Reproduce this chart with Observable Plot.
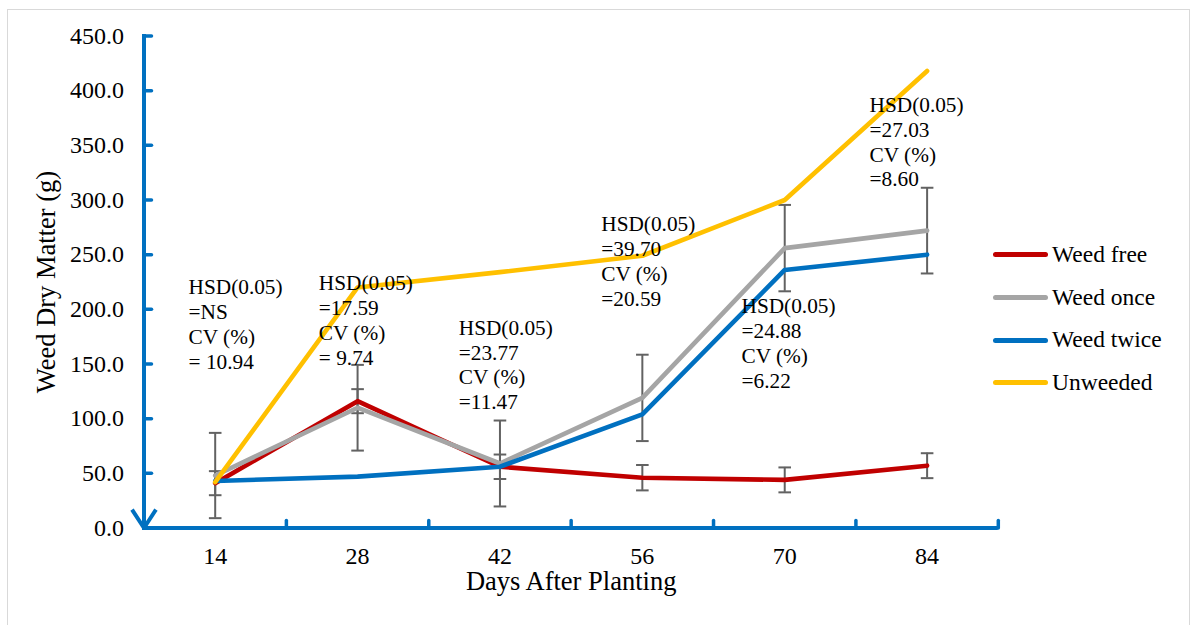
<!DOCTYPE html>
<html>
<head>
<meta charset="utf-8">
<script src="https://cdn.jsdelivr.net/npm/d3@7"></script>
<script src="https://cdn.jsdelivr.net/npm/@observablehq/plot@0.6"></script>
<style>
  html, body { margin: 0; padding: 0; background: #ffffff; }
  #wrap { position: relative; width: 1192px; height: 625px; overflow: hidden; font-family: "Liberation Serif", "Times New Roman", serif; }
  #frame { position: absolute; left: 7px; top: 9px; width: 1183px; height: 640px; border: 1px solid #d9d9d9; box-sizing: border-box; }
  #chart { position: absolute; left: 0; top: 0; }
  #legend { position: absolute; left: 993px; top: 233.7px; }
  .row { display: flex; align-items: center; height: 42.6px; }
  .swatch { width: 55px; height: 5px; border-radius: 3px; margin-right: 4px; }
  .lab { font-size: 23.5px; color: #000; line-height: 1; white-space: nowrap; }
</style>
</head>
<body>
<div id="wrap">
  <div id="frame"></div>
  <div id="chart"></div>
  <div id="legend"></div>
</div>
<script>
// ---- data ----
const days = [14, 28, 42, 56, 70, 84];
const seriesNames = ["Weed free", "Weed once", "Weed twice", "Unweeded"];
const seriesColors = ["#C00000", "#A5A5A5", "#0070C0", "#FFC000"];
const weedFree  = [41, 116, 56, 46, 44, 57];
const weedOnce  = [48, 110, 59, 119, 256, 272];
const weedTwice = [43, 47, 56, 104, 236, 250];
const unweeded  = [42, 220, 234, 249, 300, 418];
const errFree = [11.0, 11.0, 11.2, 11.6, 11.4, 11.4];
const errOnce = [39.0, 39.2, 39.3, 39.5, 39.5, 39.2];
const yTicks = [0, 50, 100, 150, 200, 250, 300, 350, 400, 450];
const categoryEdges = [7, 21, 35, 49, 63, 77, 91];
const noteTexts = [
  "HSD(0.05)\n=NS\nCV (%)\n= 10.94",
  "HSD(0.05)\n=17.59\nCV (%)\n= 9.74",
  "HSD(0.05)\n=23.77\nCV (%)\n=11.47",
  "HSD(0.05)\n=39.70\nCV (%)\n=20.59",
  "HSD(0.05)\n=24.88\nCV (%)\n=6.22",
  "HSD(0.05)\n=27.03\nCV (%)\n=8.60"
];
const noteDay   = [11.38, 24.19, 37.95, 51.96, 65.75, 78.34];
const noteValue = [186.8, 190.5, 150.0, 244.7, 169.7, 353.7];

// ---- build tables ----
const seriesValues = [weedFree, weedOnce, weedTwice, unweeded];
const lineRows = seriesValues.map((vals, s) => days.map((d, i) => ({day: d, value: vals[i], series: seriesNames[s]})));
const errRows = [];
[[weedFree, errFree], [weedOnce, errOnce]].forEach(([vals, errs]) => {
  days.forEach((d, i) => errRows.push({day: d, lo: vals[i] - errs[i], hi: vals[i] + errs[i]}));
});
const notes = noteTexts.map((t, i) => ({text: t, day: noteDay[i], value: noteValue[i]}));

const axisBlue = "#0070C0";
const errColor = "#626262";
const serif = "'Liberation Serif', 'Times New Roman', serif";
const tickShape = {draw(context, l) { context.moveTo(0, 0); context.lineTo(0, -l); }};
const capShape = {draw(context, size) { const r = Math.sqrt(size / Math.PI); context.moveTo(-r, 0); context.lineTo(r, 0); }};

const chart = Plot.plot({
  width: 1192,
  height: 625,
  marginLeft: 143.5,
  marginRight: 194.2,
  marginTop: 35.5,
  marginBottom: 97.5,
  style: {fontFamily: serif, color: "#000", background: "none"},
  x: {domain: [7, 91], axis: null},
  y: {domain: [0, 450], axis: null},
  marks: [
    // error bars
    Plot.ruleX(errRows, {x: "day", y1: "lo", y2: "hi", stroke: errColor, strokeWidth: 2}),
    Plot.dot(errRows, {x: "day", y: "lo", r: 6.3, symbol: capShape, stroke: errColor, strokeWidth: 2, fill: "none"}),
    Plot.dot(errRows, {x: "day", y: "hi", r: 6.3, symbol: capShape, stroke: errColor, strokeWidth: 2, fill: "none"}),
    // series lines
    ...lineRows.map((rows, s) => Plot.line(rows, {x: "day", y: "value", stroke: seriesColors[s], strokeWidth: 4.6, strokeLinecap: "round", strokeLinejoin: "round"})),
    // annotations
    Plot.text(notes, {x: "day", y: "value", text: "text", textAnchor: "start", lineAnchor: "middle", lineHeight: 1.165, fontSize: 21.3, fontFamily: serif, fill: "#000"}),
    // axes
    Plot.ruleY([0], {stroke: axisBlue, strokeWidth: 4}),
    Plot.arrow([0], {x1: 7, y1: 450, x2: 7, y2: 0, stroke: axisBlue, strokeWidth: 4, headLength: 7.5, headAngle: 66, strokeLinecap: "square"}),
    Plot.vector(yTicks, {x: 7, y: d => d, length: 7.5, rotate: 90, anchor: "start", shape: tickShape, stroke: axisBlue, strokeWidth: 3.5}),
    Plot.vector(categoryEdges, {x: d => d, y: 0, length: 7.5, rotate: 0, anchor: "start", shape: tickShape, stroke: axisBlue, strokeWidth: 3.5}),
    Plot.axisY(yTicks, {tickSize: 0, tickPadding: 20, fontSize: 24, fontFamily: serif, tickFormat: d3.format(".1f"), label: null}),
    Plot.axisX(days, {tickSize: 0, tickPadding: 18.5, fontSize: 24, fontFamily: serif, tickFormat: d => String(d), label: null}),
    Plot.text(["Weed Dry Matter (g)"], {frameAnchor: "left", textAnchor: "middle", lineAnchor: "middle", text: d => d, rotate: -90, dx: -97, fontSize: 26.5, fontFamily: serif, fill: "#000"}),
    Plot.text(["Days After Planting"], {frameAnchor: "bottom", textAnchor: "middle", lineAnchor: "middle", text: d => d, dy: 53.5, fontSize: 26.5, fontFamily: serif, fill: "#000"})
  ]
});
document.getElementById("chart").appendChild(chart);

// legend
const legend = document.getElementById("legend");
seriesNames.forEach((name, i) => {
  const row = document.createElement("div");
  row.className = "row";
  const sw = document.createElement("div");
  sw.className = "swatch";
  sw.style.background = seriesColors[i];
  const lab = document.createElement("span");
  lab.className = "lab";
  lab.textContent = name;
  row.appendChild(sw);
  row.appendChild(lab);
  legend.appendChild(row);
});
</script>
</body>
</html>
